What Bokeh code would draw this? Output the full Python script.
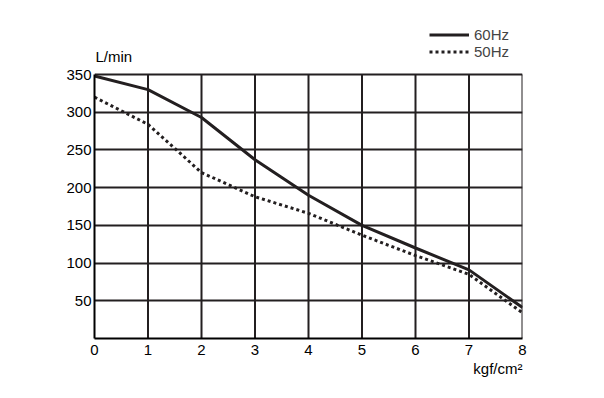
from bokeh.plotting import figure
from bokeh.models import Label, Legend, LegendItem, FixedTicker, Range1d, Title
from bokeh.embed import file_html
from bokeh.resources import INLINE

pressure = [0, 1, 2, 3, 4, 5, 6, 7, 8]
flow_60hz = [348, 330, 293, 237, 190, 150, 120, 91, 41]
flow_50hz = [320, 284, 220, 188, 166, 137, 110, 85, 34]
x_ticks = [0, 1, 2, 3, 4, 5, 6, 7, 8]
y_ticks = [50, 100, 150, 200, 250, 300, 350]
x_grid = [1, 2, 3, 4, 5, 6, 7, 8]
y_max = 350

INK = "#231f20"
FONT = "Liberation Sans"

p = figure(width=588, height=382, output_backend="svg", toolbar_location=None,
           x_range=Range1d(0, 8), y_range=Range1d(0, 423),
           min_border_left=94, min_border_right=66, min_border_top=19, min_border_bottom=44)
p.outline_line_color = None
p.background_fill_color = "white"

for ax in (p.xaxis[0], p.yaxis[0]):
    ax.major_tick_line_color = None
    ax.minor_tick_line_color = None
    ax.axis_line_color = "black"
    ax.axis_line_width = 2
    ax.major_label_text_font = FONT
    ax.major_label_text_font_size = "15px"
    ax.major_label_text_color = "black"
p.xaxis.ticker = FixedTicker(ticks=x_ticks)
p.yaxis.ticker = FixedTicker(ticks=y_ticks)
p.yaxis.bounds = (0, y_max)
p.xaxis.major_label_standoff = 0
p.yaxis.major_label_standoff = -3

p.xgrid.visible = False
p.ygrid.grid_line_color = INK
p.ygrid.grid_line_width = 2
p.ygrid.ticker = FixedTicker(ticks=y_ticks)

p.segment(x0=x_grid, y0=[0] * len(x_grid), x1=x_grid, y1=[y_max] * len(x_grid),
          line_color=INK, line_width=2)

r60 = p.line(pressure, flow_60hz, line_color=INK, line_width=3)
r50 = p.line(pressure, flow_50hz, line_color=INK, line_width=3, line_dash="3 3")

legend = Legend(items=[LegendItem(label="60Hz", renderers=[r60]),
                       LegendItem(label="50Hz", renderers=[r50])],
                location=(335, 278), orientation="vertical",
                label_text_font=FONT, label_text_font_size="15px",
                label_height=13, glyph_height=13, glyph_width=40,
                spacing=0, padding=0, margin=0, label_standoff=5,
                background_fill_alpha=0, border_line_color=None)
p.add_layout(legend, "center")

p.add_layout(Label(x=0, y=374, text="L/min", text_font=FONT, text_font_size="15px",
                   text_color="black", x_offset=1, text_baseline="middle"))

p.add_layout(Title(text="kgf/cm²", align="right", text_font=FONT, text_font_size="15px",
                   text_font_style="normal", text_color="black", standoff=0,
                   text_line_height=0.6), "below")

open("out.html", "w").write(file_html(p, INLINE))
